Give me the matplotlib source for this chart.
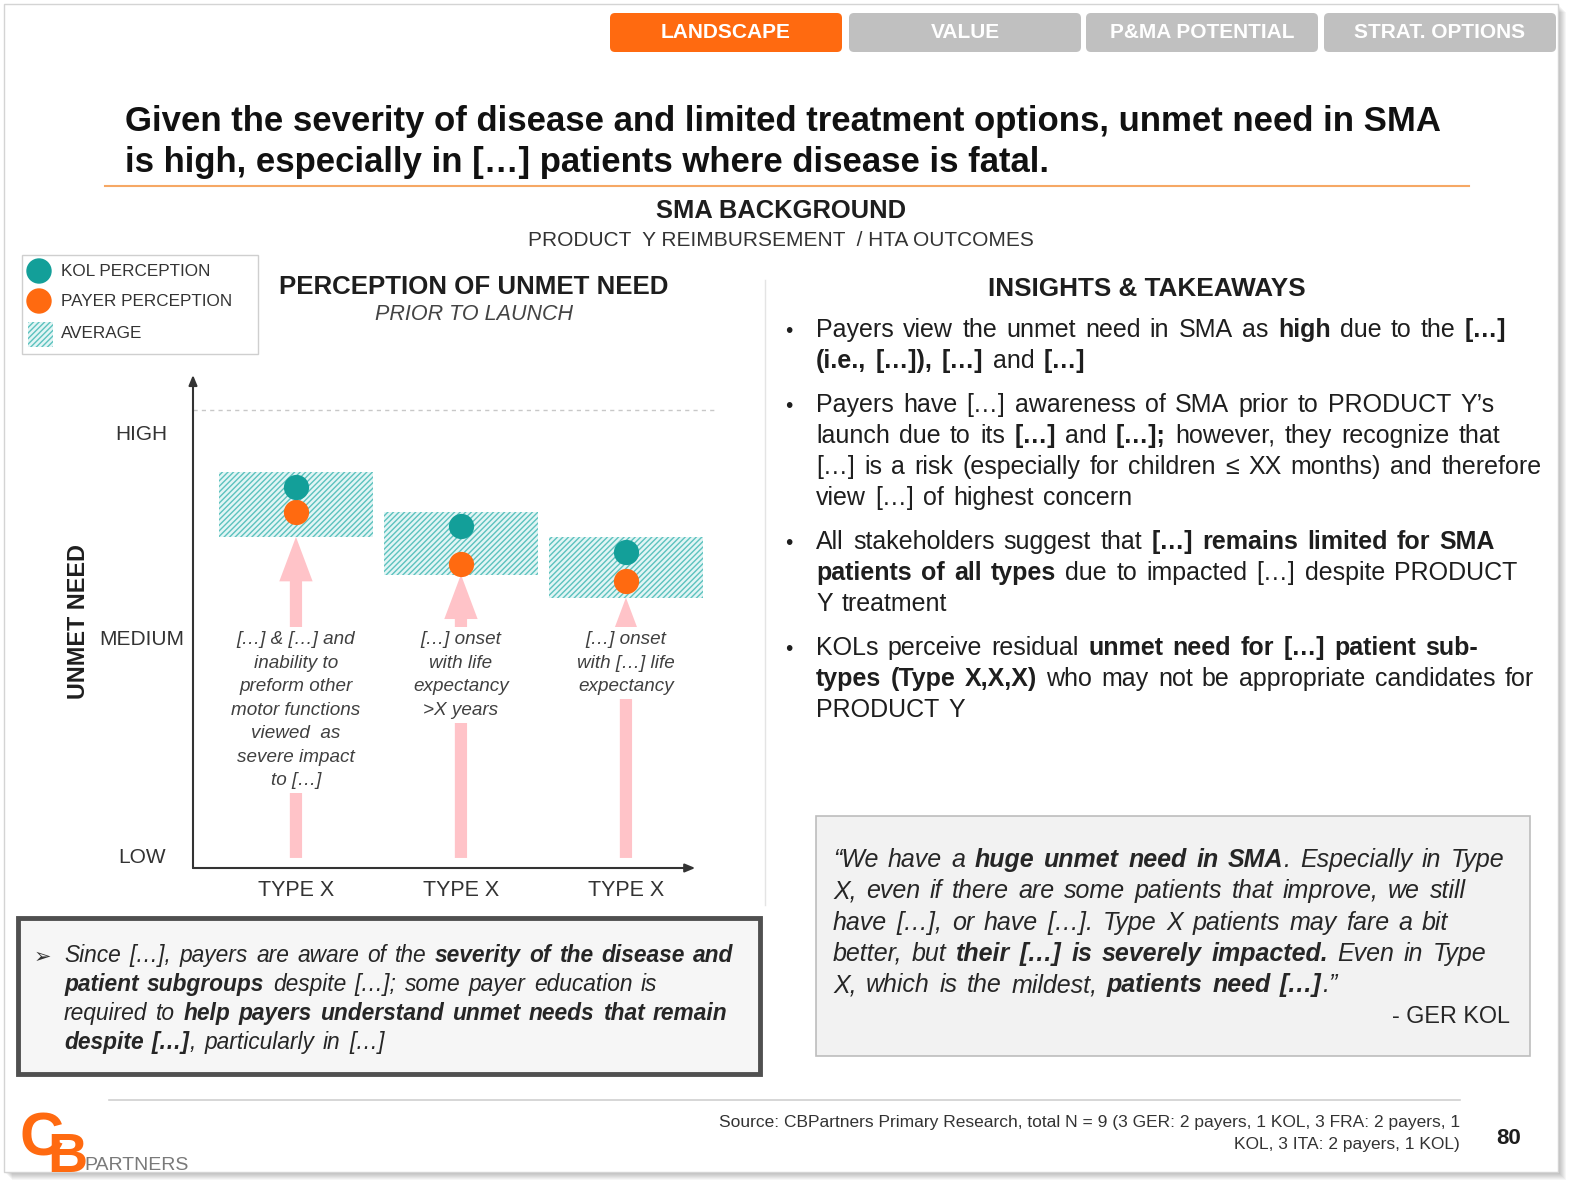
import re
import numpy as np
import matplotlib
matplotlib.use('Agg')
import matplotlib.pyplot as plt
from matplotlib.patches import Rectangle, FancyBboxPatch, Circle, FancyArrowPatch

plt.rcParams['font.family'] = ['Liberation Sans', 'DejaVu Sans']
plt.rcParams['hatch.linewidth'] = 1.0

# ---- data ----
tabs = ['LANDSCAPE', 'VALUE', 'P&MA POTENTIAL', 'STRAT. OPTIONS']
title_lines = ['Given the severity of disease and limited treatment options, unmet need in SMA',
               'is high, especially in [\u2026] patients where disease is fatal.']
types = ['TYPE X', 'TYPE X', 'TYPE X']
levels = ['LOW', 'MEDIUM', 'HIGH']
level_pos = [0.97, 2.01, 2.99]
kol = [2.73, 2.54, 2.42]
payer = [2.61, 2.36, 2.28]
avg_low = [2.49, 2.31, 2.20]
avg_high = [2.80, 2.61, 2.49]
high_ref = 3.095
notes = ['[\u2026] & [\u2026] and\ninability to\npreform other\nmotor functions\nviewed  as\nsevere impact\nto [\u2026]',
         '[\u2026] onset\nwith life\nexpectancy\n>X years',
         '[\u2026] onset\nwith [\u2026] life\nexpectancy']

insights = [
    [[('Payers view the unmet need in SMA as ', 0), ('high', 1), (' due to the ', 0), ('[\u2026]', 1)],
     [('(i.e., [\u2026]), [\u2026]', 1), (' and ', 0), ('[\u2026]', 1)]],
    [[('Payers have [\u2026] awareness of SMA prior to PRODUCT Y\u2019s', 0)],
     [('launch due to its ', 0), ('[\u2026]', 1), (' and ', 0), ('[\u2026];', 1), (' however, they recognize that', 0)],
     [('[\u2026] is a risk (especially for children \u2264 XX months) and therefore', 0)],
     [('view [\u2026] of highest concern', 0)]],
    [[('All stakeholders suggest that ', 0), ('[\u2026] remains limited for SMA', 1)],
     [('patients of all types', 1), (' due to impacted [\u2026] despite PRODUCT', 0)],
     [('Y treatment', 0)]],
    [[('KOLs perceive residual ', 0), ('unmet need for [\u2026] patient sub-', 1)],
     [('types (Type X,X,X)', 1), (' who may not be appropriate candidates for', 0)],
     [('PRODUCT Y', 0)]],
]
takeaway = [
    [('Since [\u2026], payers are aware of the ', 0), ('severity of the disease and', 1)],
    [('patient subgroups', 1), (' despite [\u2026]; some payer education is', 0)],
    [('required to ', 0), ('help payers understand unmet needs that remain', 1)],
    [('despite [\u2026]', 1), (', particularly in [\u2026]', 0)],
]
quote = [
    [('\u201cWe have a ', 0), ('huge unmet need in SMA', 1), ('. Especially in Type', 0)],
    [('X, even if there are some patients that improve, we still', 0)],
    [('have [\u2026], or have [\u2026]. Type X patients may fare a bit', 0)],
    [('better, but ', 0), ('their [\u2026] is severely impacted.', 1), (' Even in Type', 0)],
    [('X, which is the mildest, ', 0), ('patients need [\u2026]', 1), ('.\u201d', 0)],
]
quote_by = '- GER KOL'
source = ['Source: CBPartners Primary Research, total N = 9 (3 GER: 2 payers, 1 KOL, 3 FRA: 2 payers, 1',
          'KOL, 3 ITA: 2 payers, 1 KOL)']
page = '80'

ORANGE = '#ff6a10'
TEAL = '#139f99'
HATCH = '#5cc2be'
PINK = '#ffc3c8'
TXT = '#1e1e1e'

W, H = 1579, 1189
fig = plt.figure(figsize=(W / 100, H / 100), dpi=100)
lay = fig.add_axes([0, 0, 1, 1])
lay.set_xlim(0, W)
lay.set_ylim(H, 0)
lay.axis('off')
renderer = fig.canvas.get_renderer()


def run_line(x, y, runs, size, color=TXT, italic=False, ha='left', extra=0):
    style = 'italic' if italic else 'normal'
    kw = dict(fontsize=size, color=color, style=style, va='baseline')
    toks = []
    space_next = False
    for s, bold in runs:
        for m in re.finditer(r'\S+', s):
            gap = bool(toks) and (m.start() > 0 or space_next)
            toks.append((m.group(), bold, gap))
        space_next = s[-1:].isspace()
    t1 = lay.text(0, 0, 'a a', **kw)
    t2 = lay.text(0, 0, 'aa', **kw)
    sp = t1.get_window_extent(renderer).width - t2.get_window_extent(renderer).width + extra
    t1.remove()
    t2.remove()
    objs = []
    for tok, bold, gap in toks:
        t = lay.text(0, y, tok, fontweight='bold' if bold else 'normal', **kw)
        objs.append((t, t.get_window_extent(renderer).width, gap))
    total = sum(w for _, w, _ in objs) + sp * sum(g for _, _, g in objs)
    cx = x - total if ha == 'right' else (x - total / 2 if ha == 'center' else x)
    for t, w, gap in objs:
        if gap:
            cx += sp
        t.set_x(cx)
        cx += w


# slide with shadow
for k in range(1, 9):
    lay.add_patch(Rectangle((4 + k, 4 + k), 1554, 1168, fc='black', ec='none', alpha=0.035))
lay.add_patch(Rectangle((4, 4), 1554, 1168, fc='white', ec='#d4d4d4', lw=1))

# tabs
tab_x = [610, 849, 1086, 1324]
for i, (name, tx) in enumerate(zip(tabs, tab_x)):
    lay.add_patch(FancyBboxPatch((tx + 5, 18), 222, 29, boxstyle='round,pad=5',
                                 fc=ORANGE if i == 0 else '#c0c0c0', ec='none'))
    lay.text(tx + 116, 33, name, ha='center', va='center', fontsize=15,
             fontweight='bold', color='white')

# title
for i, s in enumerate(title_lines):
    lay.text(125, 131 + 41 * i, s, fontsize=25, fontweight='bold', color='#111111', va='baseline')
lay.plot([105, 1469], [186, 186], color='#f6a865', lw=1.5)

lay.text(781, 211, 'SMA BACKGROUND', ha='center', va='center', fontsize=18.4, fontweight='bold', color=TXT)
lay.text(781, 240, 'PRODUCT  Y REIMBURSEMENT  / HTA OUTCOMES', ha='center', va='center',
         fontsize=15, color='#333333')

# legend
lay.add_patch(Rectangle((22, 255), 236, 99, fill=False, ec='#cfcfcf', lw=1))
lay.add_patch(Circle((39, 271), 12, color=TEAL))
lay.add_patch(Circle((39, 301), 12, color=ORANGE))
lay.add_patch(Rectangle((28, 322), 25, 25, fc='#e2f5f5', ec=HATCH, lw=0, hatch='//////'))
for ty, lab in zip([271, 301, 334], ['KOL PERCEPTION', 'PAYER PERCEPTION', 'AVERAGE']):
    lay.text(61, ty, lab, va='center', fontsize=12.3, color='#333333')

lay.text(474, 287, 'PERCEPTION OF UNMET NEED', ha='center', va='center', fontsize=18.6,
         fontweight='bold', color=TXT)
lay.text(474, 315, 'PRIOR TO LAUNCH', ha='center', va='center', fontsize=15.5,
         style='italic', color='#444444')

lay.plot([765, 765], [280, 905], color='#e4e4e4', lw=1)

# chart
ax = fig.add_axes([193 / W, 1 - 868 / H, 527 / W, 493 / H])
ax.set_xlim(-0.624, 2.57)
ax.set_ylim(0.909, 3.263)
ax.patch.set_visible(False)
for s in ax.spines.values():
    s.set_visible(False)
x = np.arange(len(types))
ax.bar(x, np.array(avg_high) - np.array(avg_low), bottom=avg_low, width=0.93,
       color='#e2f5f5', edgecolor=HATCH, linewidth=0, hatch='//////', zorder=2)
arrow_base = 0.957
for xi, top in zip(x, avg_low):
    ax.add_patch(FancyArrowPatch((xi, arrow_base), (xi, top),
                                 arrowstyle='simple,head_length=0.8,head_width=0.6,tail_width=0.22',
                                 mutation_scale=40, color=PINK, lw=0, shrinkA=0, shrinkB=0, zorder=1))
for xi, note in zip(x, notes):
    ax.text(xi, 2.04, note, ha='center', va='top', style='italic', fontsize=13.6,
            color='#404040', linespacing=1.5, zorder=3,
            bbox=dict(fc='white', ec='none', pad=3))
ax.scatter(x, payer, s=330, color=ORANGE, linewidths=0, zorder=4)
ax.scatter(x, kol, s=330, color=TEAL, linewidths=0, zorder=5)
ax.plot([-0.624, 2.56], [high_ref, high_ref], ls=(0, (3, 3)), color='#c8c8c8', lw=1)
ax.annotate('', xy=(0, 1), xytext=(0, 0), xycoords='axes fraction',
            arrowprops=dict(arrowstyle='-|>,head_length=0.6,head_width=0.25', color='#333333',
                            lw=1.5, shrinkA=0, shrinkB=0))
ax.annotate('', xy=(0.953, 0), xytext=(0, 0), xycoords='axes fraction',
            arrowprops=dict(arrowstyle='-|>,head_length=0.6,head_width=0.25', color='#333333',
                            lw=1.5, shrinkA=0, shrinkB=0))
ax.set_yticks(level_pos, levels)
ax.set_xticks(x, types)
ax.tick_params(axis='y', length=0, pad=37, labelsize=15, labelcolor='#333333')
ax.tick_params(axis='x', length=0, pad=9, labelsize=15.5, labelcolor='#333333')
for lbl in ax.get_yticklabels():
    lbl.set_ha('center')
ax.set_ylabel('UNMET NEED', fontsize=16.8, fontweight='bold', color=TXT)
ax.yaxis.set_label_coords(-0.195, 0.5)

# insights
lay.text(1147, 289, 'INSIGHTS & TAKEAWAYS', ha='center', va='center', fontsize=18.8,
         fontweight='bold', color=TXT)
y = 337
for para in insights:
    lay.text(785, y, '\u2022', fontsize=15, color=TXT, va='baseline')
    for ln in para:
        run_line(816, y, ln, 18, extra=2.3)
        y += 31
    y += 13

# takeaway box
lay.add_patch(Rectangle((18, 918), 742, 156, fc='#f6f6f6', ec='#505050', lw=3.5))
lay.text(34, 963, '\u27a2', fontsize=15, color='#333333', va='baseline', family='DejaVu Sans')
for i, ln in enumerate(takeaway):
    run_line(64, 962 + 29 * i, ln, 16.4, color='#262626', italic=True, extra=2)

# quote box
lay.add_patch(Rectangle((816, 816), 714, 240, fc='#f2f2f2', ec='#bdbdbd', lw=1.2))
for i, ln in enumerate(quote):
    run_line(833, 867 + 31.3 * i, ln, 18, color='#262626', italic=True, extra=2.5)
lay.text(1510, 1023, quote_by, ha='right', va='baseline', fontsize=16.8, color='#262626')

# footer
lay.plot([109, 1460], [1100, 1100], color='#d0d0d0', lw=1.2)
for i, s in enumerate(source):
    lay.text(1460, 1123 + 21 * i, s, ha='right', va='center', fontsize=12.5, color='#333333')
lay.text(1509, 1139, page, ha='center', va='center', fontsize=16, fontweight='bold', color=TXT)

# logo
lay.text(20, 1155, 'C', fontsize=44, color=ORANGE, va='baseline', fontweight='bold')
lay.text(47, 1172, 'B', fontsize=40, color=ORANGE, va='baseline', fontweight='bold')
lay.text(84, 1166, 'PARTNERS', fontsize=14, color='#7a7a7a', va='center')

fig.savefig('out.png', dpi=100)
